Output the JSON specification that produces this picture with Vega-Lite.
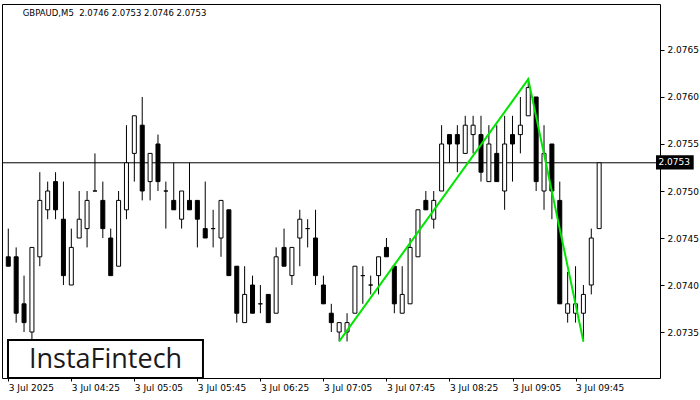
{
"$schema": "https://vega.github.io/schema/vega-lite/v6.json",
"width": 658, "height": 374,
"autosize": {"type": "none"},
"padding": {"left": 2, "top": 4, "right": 40, "bottom": 22},
"background": "white",
"config": {"view": {"stroke": "black", "strokeWidth": 1}, "font": "DejaVu Sans",
 "axis": {"labelFont": "DejaVu Sans", "labelFontSize": 9, "labelColor": "black", "tickColor": "black", "domain": false, "grid": false, "title": null, "labelOverlap": false, "labelBound": false, "labelFlush": false}},
"datasets": {
"one": [{}],
"bars": [
{"t":"2025-07-03T03:45","o":2.0743,"h":2.0746,"l":2.0742,"c":2.0742},
{"t":"2025-07-03T03:50","o":2.0743,"h":2.0744,"l":2.0736,"c":2.0737},
{"t":"2025-07-03T03:55","o":2.0738,"h":2.0741,"l":2.0735,"c":2.0736},
{"t":"2025-07-03T04:00","o":2.0735,"h":2.0744,"l":2.0734,"c":2.0744},
{"t":"2025-07-03T04:05","o":2.0743,"h":2.0752,"l":2.0742,"c":2.0749},
{"t":"2025-07-03T04:10","o":2.0748,"h":2.0751,"l":2.0747,"c":2.0750},
{"t":"2025-07-03T04:15","o":2.0751,"h":2.0752,"l":2.0747,"c":2.0748},
{"t":"2025-07-03T04:20","o":2.0747,"h":2.0751,"l":2.0740,"c":2.0741},
{"t":"2025-07-03T04:25","o":2.0740,"h":2.0746,"l":2.0740,"c":2.0744},
{"t":"2025-07-03T04:30","o":2.0745,"h":2.0750,"l":2.0745,"c":2.0747},
{"t":"2025-07-03T04:35","o":2.0746,"h":2.0750,"l":2.0744,"c":2.0749},
{"t":"2025-07-03T04:40","o":2.0750,"h":2.0754,"l":2.0750,"c":2.0750},
{"t":"2025-07-03T04:45","o":2.0749,"h":2.0751,"l":2.0745,"c":2.0746},
{"t":"2025-07-03T04:50","o":2.0745,"h":2.0746,"l":2.0741,"c":2.0741},
{"t":"2025-07-03T04:55","o":2.0742,"h":2.0750,"l":2.0742,"c":2.0749},
{"t":"2025-07-03T05:00","o":2.0748,"h":2.0757,"l":2.0747,"c":2.0753},
{"t":"2025-07-03T05:05","o":2.0754,"h":2.0758,"l":2.0751,"c":2.0758},
{"t":"2025-07-03T05:10","o":2.0757,"h":2.0760,"l":2.0749,"c":2.0750},
{"t":"2025-07-03T05:15","o":2.0751,"h":2.0754,"l":2.0749,"c":2.0754},
{"t":"2025-07-03T05:20","o":2.0755,"h":2.0756,"l":2.0750,"c":2.0751},
{"t":"2025-07-03T05:25","o":2.0750,"h":2.0751,"l":2.0746,"c":2.0750},
{"t":"2025-07-03T05:30","o":2.0749,"h":2.0753,"l":2.0748,"c":2.0748},
{"t":"2025-07-03T05:35","o":2.0747,"h":2.0750,"l":2.0746,"c":2.0750},
{"t":"2025-07-03T05:40","o":2.0749,"h":2.0753,"l":2.0748,"c":2.0748},
{"t":"2025-07-03T05:45","o":2.0749,"h":2.0749,"l":2.0744,"c":2.0747},
{"t":"2025-07-03T05:50","o":2.0746,"h":2.0751,"l":2.0745,"c":2.0745},
{"t":"2025-07-03T05:55","o":2.0746,"h":2.0748,"l":2.0744,"c":2.0746},
{"t":"2025-07-03T06:00","o":2.0745,"h":2.0749,"l":2.0743,"c":2.0749},
{"t":"2025-07-03T06:05","o":2.0748,"h":2.0748,"l":2.0741,"c":2.0741},
{"t":"2025-07-03T06:10","o":2.0742,"h":2.0742,"l":2.0736,"c":2.0737},
{"t":"2025-07-03T06:15","o":2.0736,"h":2.0742,"l":2.0736,"c":2.0739},
{"t":"2025-07-03T06:20","o":2.0740,"h":2.0741,"l":2.0737,"c":2.0737},
{"t":"2025-07-03T06:25","o":2.0738,"h":2.0740,"l":2.0737,"c":2.0738},
{"t":"2025-07-03T06:30","o":2.0739,"h":2.0739,"l":2.0736,"c":2.0736},
{"t":"2025-07-03T06:35","o":2.0737,"h":2.0744,"l":2.0737,"c":2.0743},
{"t":"2025-07-03T06:40","o":2.0744,"h":2.0746,"l":2.0742,"c":2.0742},
{"t":"2025-07-03T06:45","o":2.0741,"h":2.0744,"l":2.0740,"c":2.0744},
{"t":"2025-07-03T06:50","o":2.0745,"h":2.0748,"l":2.0742,"c":2.0747},
{"t":"2025-07-03T06:55","o":2.0746,"h":2.0747,"l":2.0744,"c":2.0746},
{"t":"2025-07-03T07:00","o":2.0745,"h":2.0748,"l":2.0740,"c":2.0741},
{"t":"2025-07-03T07:05","o":2.0740,"h":2.0741,"l":2.0738,"c":2.0738},
{"t":"2025-07-03T07:10","o":2.0737,"h":2.0738,"l":2.0735,"c":2.0736},
{"t":"2025-07-03T07:15","o":2.0735,"h":2.0736,"l":2.0734,"c":2.0736},
{"t":"2025-07-03T07:20","o":2.0735,"h":2.0737,"l":2.0734,"c":2.0736},
{"t":"2025-07-03T07:25","o":2.0737,"h":2.0742,"l":2.0737,"c":2.0742},
{"t":"2025-07-03T07:30","o":2.0741,"h":2.0742,"l":2.0738,"c":2.0741},
{"t":"2025-07-03T07:35","o":2.0740,"h":2.0741,"l":2.0739,"c":2.0740},
{"t":"2025-07-03T07:40","o":2.0741,"h":2.0743,"l":2.0739,"c":2.0743},
{"t":"2025-07-03T07:45","o":2.0744,"h":2.0745,"l":2.0743,"c":2.0743},
{"t":"2025-07-03T07:50","o":2.0742,"h":2.0742,"l":2.0737,"c":2.0738},
{"t":"2025-07-03T07:55","o":2.0737,"h":2.0742,"l":2.0737,"c":2.0739},
{"t":"2025-07-03T08:00","o":2.0738,"h":2.0745,"l":2.0738,"c":2.0744},
{"t":"2025-07-03T08:05","o":2.0743,"h":2.0748,"l":2.0743,"c":2.0748},
{"t":"2025-07-03T08:10","o":2.0749,"h":2.0750,"l":2.0748,"c":2.0748},
{"t":"2025-07-03T08:15","o":2.0747,"h":2.0750,"l":2.0746,"c":2.0749},
{"t":"2025-07-03T08:20","o":2.0750,"h":2.0757,"l":2.0750,"c":2.0755},
{"t":"2025-07-03T08:25","o":2.0756,"h":2.0756,"l":2.0753,"c":2.0755},
{"t":"2025-07-03T08:30","o":2.0756,"h":2.0757,"l":2.0752,"c":2.0755},
{"t":"2025-07-03T08:35","o":2.0754,"h":2.0758,"l":2.0754,"c":2.0757},
{"t":"2025-07-03T08:40","o":2.0756,"h":2.0758,"l":2.0754,"c":2.0757},
{"t":"2025-07-03T08:45","o":2.0756,"h":2.0758,"l":2.0751,"c":2.0752},
{"t":"2025-07-03T08:50","o":2.0751,"h":2.0757,"l":2.0751,"c":2.0755},
{"t":"2025-07-03T08:55","o":2.0754,"h":2.0757,"l":2.0751,"c":2.0751},
{"t":"2025-07-03T09:00","o":2.0750,"h":2.0758,"l":2.0748,"c":2.0755},
{"t":"2025-07-03T09:05","o":2.0756,"h":2.0758,"l":2.0751,"c":2.0755},
{"t":"2025-07-03T09:10","o":2.0756,"h":2.0760,"l":2.0754,"c":2.0757},
{"t":"2025-07-03T09:15","o":2.0758,"h":2.0762,"l":2.0758,"c":2.0761},
{"t":"2025-07-03T09:20","o":2.0760,"h":2.0760,"l":2.0750,"c":2.0751},
{"t":"2025-07-03T09:25","o":2.0750,"h":2.0757,"l":2.0748,"c":2.0754},
{"t":"2025-07-03T09:30","o":2.0755,"h":2.0755,"l":2.0747,"c":2.0750},
{"t":"2025-07-03T09:35","o":2.0749,"h":2.0751,"l":2.0738,"c":2.0738},
{"t":"2025-07-03T09:40","o":2.0737,"h":2.07414,"l":2.0736,"c":2.0738},
{"t":"2025-07-03T09:45","o":2.0737,"h":2.0742,"l":2.0736,"c":2.0738},
{"t":"2025-07-03T09:50","o":2.0737,"h":2.0740,"l":2.0734,"c":2.0739},
{"t":"2025-07-03T09:55","o":2.0740,"h":2.0746,"l":2.0739,"c":2.0745},
{"t":"2025-07-03T10:00","o":2.0746,"h":2.0753,"l":2.0746,"c":2.0753}
],
"pattern": [
{"t":"2025-07-03T07:15","p":2.0734},
{"t":"2025-07-03T09:15","p":2.07619},
{"t":"2025-07-03T09:50","p":2.0734}
]
},
"layer": [
{"data": {"name": "one"},
 "mark": {"type": "rule", "color": "black", "strokeWidth": 1},
 "encoding": {"y": {"datum": 2.0753, "type": "quantitative", "scale": {"domain": [2.073011, 2.076989], "nice": false, "zero": false}}}},
{"data": {"name": "bars"},
 "mark": {"type": "rule", "color": "black", "strokeWidth": 1, "clip": true},
 "encoding": {
  "x": {"field": "t", "type": "temporal",
   "scale": {"domain": [{"year":2025,"month":7,"date":3,"hours":3,"minutes":44,"seconds":11}, {"year":2025,"month":7,"date":3,"hours":10,"minutes":35,"seconds":26}], "nice": false},
   "axis": {"orient": "bottom", "values": [
     {"year":2025,"month":7,"date":3,"hours":3,"minutes":45},
     {"year":2025,"month":7,"date":3,"hours":4,"minutes":25},
     {"year":2025,"month":7,"date":3,"hours":5,"minutes":5},
     {"year":2025,"month":7,"date":3,"hours":5,"minutes":45},
     {"year":2025,"month":7,"date":3,"hours":6,"minutes":25},
     {"year":2025,"month":7,"date":3,"hours":7,"minutes":5},
     {"year":2025,"month":7,"date":3,"hours":7,"minutes":45},
     {"year":2025,"month":7,"date":3,"hours":8,"minutes":25},
     {"year":2025,"month":7,"date":3,"hours":9,"minutes":5},
     {"year":2025,"month":7,"date":3,"hours":9,"minutes":45}],
    "labelExpr": "timeFormat(datum.value, '%H:%M') == '03:45' ? '3 Jul 2025' : timeFormat(datum.value, '%-d %b %H:%M')",
    "labelAlign": "left", "tickSize": 3, "labelPadding": 2}},
  "y": {"field": "l", "type": "quantitative",
   "scale": {"domain": [2.073011, 2.076989], "nice": false, "zero": false},
   "axis": {"orient": "right", "values": [2.0735, 2.074, 2.0745, 2.075, 2.0755, 2.076, 2.0765], "format": ".4f", "tickSize": 4, "labelPadding": 3}},
  "y2": {"field": "h"}}},
{"data": {"name": "bars"},
 "mark": {"type": "bar", "width": 4, "stroke": "black", "strokeWidth": 1, "clip": true},
 "encoding": {
  "x": {"field": "t", "type": "temporal"},
  "y": {"field": "o", "type": "quantitative"},
  "y2": {"field": "c"},
  "fill": {"condition": {"test": "datum.c >= datum.o", "value": "white"}, "value": "black"}}},
{"data": {"name": "pattern"},
 "mark": {"type": "line", "color": "#00e600", "strokeWidth": 2},
 "encoding": {"x": {"field": "t", "type": "temporal"}, "y": {"field": "p", "type": "quantitative"}}},
{"data": {"name": "one"},
 "mark": {"type": "rect", "fill": "black"},
 "encoding": {
  "x": {"datum": {"year":2025,"month":7,"date":3,"hours":10,"minutes":36,"seconds":4}, "type": "temporal"},
  "x2": {"datum": {"year":2025,"month":7,"date":3,"hours":11,"minutes":0}},
  "y": {"datum": 2.07538, "type": "quantitative"},
  "y2": {"datum": 2.07523}}},
{"data": {"name": "one"},
 "mark": {"type": "text", "color": "white", "font": "DejaVu Sans", "fontSize": 9, "align": "center", "baseline": "middle"},
 "encoding": {
  "x": {"datum": {"year":2025,"month":7,"date":3,"hours":10,"minutes":47,"seconds":39}, "type": "temporal"},
  "y": {"datum": 2.075305, "type": "quantitative"},
  "text": {"value": "2.0753"}}},
{"data": {"name": "one"},
 "mark": {"type": "text", "color": "black", "font": "DejaVu Sans", "fontSize": 8.5, "align": "left", "baseline": "middle"},
 "encoding": {
  "x": {"datum": {"year":2025,"month":7,"date":3,"hours":3,"minutes":54,"seconds":12}, "type": "temporal"},
  "y": {"datum": 2.076894, "type": "quantitative"},
  "text": {"value": "GBPAUD,M5\u00a0\u00a02.0746 2.0753 2.0746 2.0753"}}},
{"data": {"name": "one"},
 "mark": {"type": "rect", "fill": "white", "stroke": "black", "strokeWidth": 2},
 "encoding": {
  "x": {"datum": {"year":2025,"month":7,"date":3,"hours":3,"minutes":44,"seconds":49}, "type": "temporal"},
  "x2": {"datum": {"year":2025,"month":7,"date":3,"hours":5,"minutes":48,"seconds":33}},
  "y": {"datum": 2.073415, "type": "quantitative"},
  "y2": {"datum": 2.073011}}},
{"data": {"name": "one"},
 "mark": {"type": "text", "color": "#1a1a1a", "font": "Open Sans", "fontSize": 27, "fontWeight": 500, "align": "center", "baseline": "middle"},
 "encoding": {
  "x": {"datum": {"year":2025,"month":7,"date":3,"hours":4,"minutes":46,"seconds":43}, "type": "temporal"},
  "y": {"datum": 2.073202, "type": "quantitative"},
  "text": {"value": "InstaFintech"}}}
]
}
